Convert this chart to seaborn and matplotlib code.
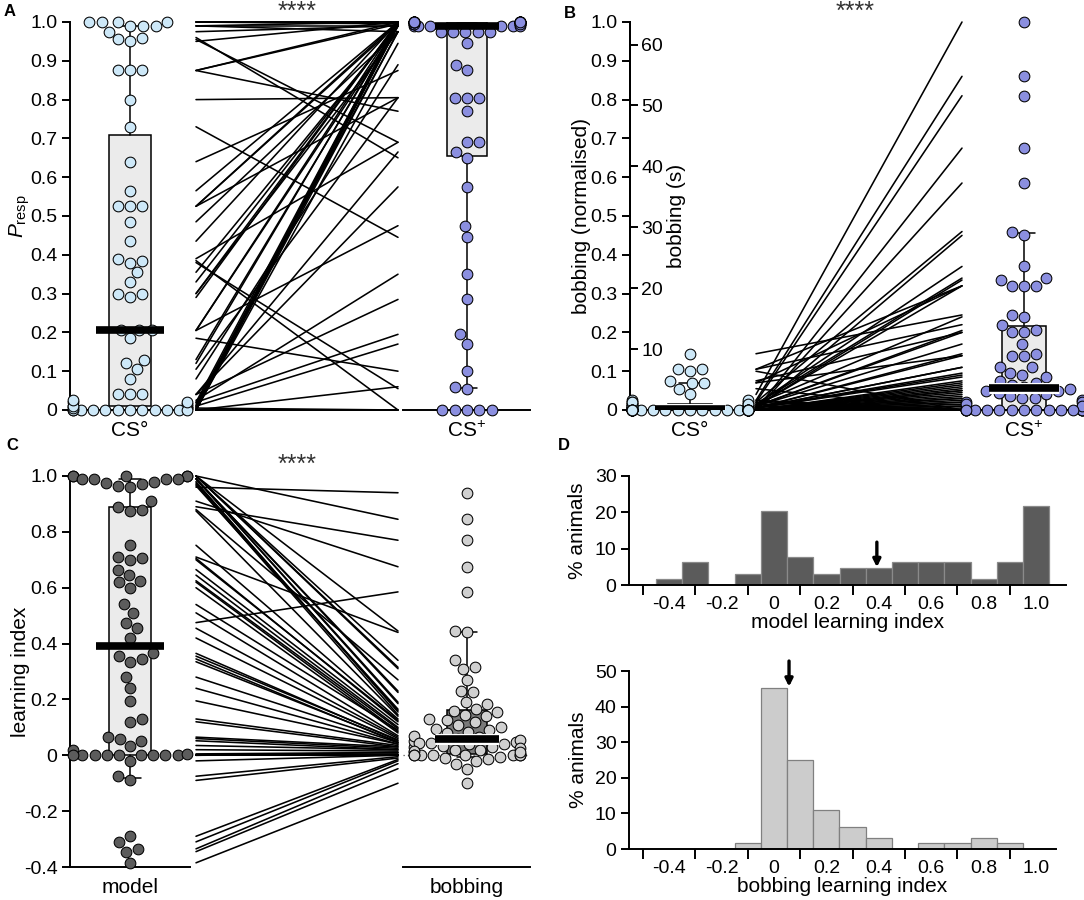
import numpy as np
import pandas as pd
import matplotlib
matplotlib.use("Agg")
import matplotlib.pyplot as plt
import matplotlib.patheffects as pe
from matplotlib import cbook
import seaborn as sns

# ---------------- data (one entry per animal, same order in every array) ----------------
presp_cs0 = [0, 0, 0, 0, 0, 0, 0.005, 0.005, 0.01, 0.01,
             0.015, 0.02, 0, 0, 0, 0, 0, 0.005, 0, 0.01,
             0.02, 0.025, 0.04, 0.04, 0.04, 0.08, 0.105, 0.12, 0.13, 0.185,
             0.205, 0.205, 0.205, 0.29, 0.30, 0.30, 0.33, 0.355, 0.38, 0.385,
             0.39, 0.435, 0.485, 0.525, 0.525, 0.525, 0.565, 0.64, 0.73, 0.80,
             0.875, 0.875, 0.875, 0.955, 0.96, 0.95, 0.975, 1.0, 1.0, 1.0,
             1.0, 0.99, 0.99, 0.99]
presp_csplus = [1.0, 1.0, 1.0, 0.995, 0.99, 1.0, 1.0, 0.995, 1.0, 0.99,
                0.975, 1.0, 0.975, 0.945, 0, 0, 0, 0, 0.06, 0.17,
                0.195, 0.35, 0.285, 0.575, 0.665, 0.89, 0.805, 1.0, 0.995, 0.10,
                1.0, 0.99, 0.475, 1.0, 1.0, 0.975, 0.995, 0.99, 0.055, 0,
                0.69, 1.0, 0.975, 1.0, 0.995, 0.805, 1.0, 0.875, 0.445, 0.805,
                1.0, 0.995, 0.77, 0.69, 0.65, 1.0, 0.99, 1.0, 1.0, 0.995,
                1.0, 0.975, 1.0, 0.99]
bob_cs0 = [0.025, 0.02, 0.015, 0.07, 0.01, 0.015, 0.01, 0.145, 0.015, 0.105,
           0.01, 0.01, 0.075, 0.04, 0, 0, 0, 0, 0, 0,
           0, 0, 0, 0.005, 0.005, 0.105, 0.07, 0, 0.02, 0,
           0.01, 0.005, 0, 0, 0.005, 0.005, 0.005, 0.005, 0.025, 0.055,
           0.10, 0, 0, 0, 0, 0, 0, 0, 0.015, 0,
           0, 0, 0.005, 0.01, 0.02, 0, 0, 0, 0, 0,
           0, 0, 0, 0]
bob_csplus = [0.86, 0.46, 0.37, 0.32, 0.32, 0.34, 0.335, 0.245, 0.24, 0.22,
              0.205, 0.20, 0.20, 1.0, 0.005, 0, 0, 0, 0.025, 0.035,
              0.03, 0.05, 0.05, 0.09, 0.085, 0.32, 0.14, 0.675, 0.81, 0,
              0.17, 0.145, 0.045, 0.45, 0.14, 0.11, 0.11, 0.095, 0, 0,
              0, 0.075, 0.07, 0.585, 0.065, 0.055, 0.06, 0.04, 0, 0.01,
              0.03, 0.02, 0, 0, 0, 0.02, 0.015, 0, 0, 0,
              0, 0, 0.01, 0]
model_li = [1.0, 1.0, 1.0, 0.99, 0.99, 1.0, 1.0, 0.99, 0.99, 0.975,
            0.965, 0.98, 0.97, 0.96, 0, 0, 0, 0, 0.065, 0.195,
            0.24, 0.365, 0.335, 0.54, 0.62, 0.88, 0.70, 0.91, 0.89, -0.02,
            0.875, 0.752, 0.345, 0.71, 0.705, 0.665, 0.645, 0.625, -0.335, -0.345,
            -0.385, 0.60, 0.51, 0.475, 0.455, 0.355, 0.42, 0.28, -0.29, 0.02,
            0.13, 0.12, -0.075, -0.09, -0.31, 0.06, 0.052, 0, 0, 0,
            0, 0, 0.035, 0.005]
bob_li = [0.845, 0.445, 0.34, 0.23, 0.225, 0.315, 0.31, 0.19, 0.185, 0.16,
          0.165, 0.155, 0.145, 0.94, 0.01, 0.005, 0, 0, 0.03, 0.04,
          0.04, 0.052, 0.048, 0.09, 0.085, 0.27, 0.125, 0.675, 0.77, 0,
          0.14, 0.13, 0.045, 0.44, 0.12, 0.11, 0.10, 0.095, -0.03, -0.048,
          -0.10, 0.08, 0.07, 0.585, 0.065, 0.055, 0.06, 0.045, -0.015, 0.015,
          0.035, 0.03, -0.005, -0.01, -0.02, 0.025, 0.02, 0, 0, 0,
          0, 0, 0.02, 0.01]

bobbing_seconds_per_unit = 63.7
presp_ticks = [0, 0.1, 0.2, 0.3, 0.4, 0.5, 0.6, 0.7, 0.8, 0.9, 1.0]
li_ticks = [-0.4, -0.2, 0, 0.2, 0.4, 0.6, 0.8, 1.0]
sec_ticks = [10, 20, 30, 40, 50, 60]
hist_label_ticks = [-0.4, -0.2, 0, 0.2, 0.4, 0.6, 0.8, 1.0]
hist_minor_ticks = [-0.5, -0.3, -0.1, 0.1, 0.3, 0.5, 0.7, 0.9]
box_percentiles = [10, 25, 50, 75, 90]

# ---------------- style ----------------
sns.set_theme(style="ticks")
plt.rcParams["font.family"] = ["Liberation Sans", "DejaVu Sans"]
plt.rcParams.update({
    "mathtext.fontset": "custom",
    "mathtext.rm": "Liberation Sans",
    "mathtext.it": "Liberation Sans:italic",
    "mathtext.bf": "Liberation Sans:bold",
    "axes.linewidth": 1.4,
    "xtick.major.width": 1.4, "ytick.major.width": 1.4,
    "xtick.minor.width": 1.4,
    "axes.edgecolor": "black", "xtick.color": "black", "ytick.color": "black",
    "text.color": "black", "axes.labelcolor": "black",
})

LIGHT_BLUE = "#cde8f8"
PURPLE = "#8b8fe0"
DARK_GREY = "#5c5c5c"
LIGHT_GREY = "#d0d0d0"
BOX_LIGHT = "#ebebeb"
BOX_DARK = "#7a7a7a"
TICK_FS = 14
LAB_FS = 15

W, H = 1084, 900
fig = plt.figure(figsize=(W / 100, H / 100), dpi=100)


def add_ax(x0, y0, x1, y1):
    return fig.add_axes([x0 / W, 1 - y1 / H, (x1 - x0) / W, (y1 - y0) / H])


def fmt(v):
    return "0" if abs(v) < 1e-9 else f"{v:.1f}"


def group_panel(ax, vals, label, dot_color, box_color, xlim, ylim,
                yticks=None, ylabel=None, ylabel_x=-0.33, stroke=False):
    df = pd.DataFrame({"group": ["g"] * len(vals), "value": vals})
    sns.swarmplot(data=df, x="group", y="value", ax=ax, color=dot_color,
                  size=7.7, edgecolor="black", linewidth=0.75, clip_on=False,
                  zorder=3, warn_thresh=1)
    # box = interquartile range, whiskers = 10-90th percentile (GraphPad style)
    st = cbook.boxplot_stats(np.asarray(vals, float), whis=(10, 90))[0]
    p = np.percentile(vals, box_percentiles, method="weibull")
    st.update(whislo=p[0], q1=p[1], med=p[2], q3=p[3], whishi=p[4], fliers=[])
    ax.bxp([st], positions=[0], widths=0.3, patch_artist=True, showfliers=False,
           manage_ticks=False, capwidths=0.15,
           boxprops=dict(facecolor=box_color, edgecolor="black", linewidth=1.1),
           medianprops=dict(color="black", linewidth=1.1),
           whiskerprops=dict(color="black", linewidth=1.1),
           capprops=dict(color="black", linewidth=1.1))
    ln = ax.hlines(p[2], -0.24, 0.24, colors="black", lw=5.5, zorder=6)
    if stroke:
        ln.set_path_effects([pe.Stroke(linewidth=8, foreground="white"), pe.Normal()])
    ax.set_xlim(*xlim)
    ax.set_ylim(*ylim)
    ax.set_xlabel("")
    ax.set_xticks([0], [label])
    ax.tick_params(axis="x", length=0, labelsize=LAB_FS, pad=8)
    sns.despine(ax=ax)
    if yticks is None:
        ax.spines["left"].set_visible(False)
        ax.set_yticks([])
        ax.set_ylabel("")
    else:
        ax.set_yticks(yticks, [fmt(v) for v in yticks])
        ax.tick_params(axis="y", length=6, labelsize=TICK_FS, pad=3)
        ax.set_ylabel(ylabel, fontsize=LAB_FS)
        ax.yaxis.set_label_coords(ylabel_x, 0.5)


def lines_panel(ax, left, right, ylim):
    n = len(left)
    df = pd.DataFrame({
        "animal": list(range(n)) * 2,
        "pos": [0] * n + [1] * n,
        "value": list(left) + list(right),
    })
    sns.lineplot(data=df, x="pos", y="value", units="animal", estimator=None,
                 color="black", lw=1.15, ax=ax, legend=False)
    for l in ax.lines:
        l.set_clip_on(False)
    ax.set_xlim(0, 1)
    ax.set_ylim(*ylim)
    ax.axis("off")


def hist_panel(ax, vals, color, edge, xlim, ylim, yticks, xlabel):
    sns.histplot(x=vals, bins=15, binrange=(-0.45, 1.05), stat="percent",
                 color=color, edgecolor=edge, linewidth=0.9, alpha=1, ax=ax)
    ax.set_xlim(*xlim)
    ax.set_ylim(*ylim)
    ax.set_yticks(yticks, [str(v) for v in yticks])
    ax.set_xticks(hist_label_ticks, [fmt(v) for v in hist_label_ticks])
    ax.set_xticks(hist_minor_ticks, minor=True)
    ax.tick_params(axis="x", which="major", length=0, labelsize=TICK_FS, pad=8)
    ax.tick_params(axis="x", which="minor", length=7, width=1.4, direction="out")
    ax.tick_params(axis="y", length=6, labelsize=TICK_FS, pad=3)
    ax.set_xlabel(xlabel, fontsize=LAB_FS, labelpad=0)
    ax.set_ylabel("% animals", fontsize=LAB_FS)
    ax.yaxis.set_label_coords(-0.097, 0.5)
    sns.despine(ax=ax)


# ---------------- panel A ----------------
axA1 = add_ax(70, 22, 190, 410)
group_panel(axA1, presp_cs0, "CS°", LIGHT_BLUE, BOX_LIGHT, (-0.42, 0.42), (0, 1),
            yticks=presp_ticks, ylabel=r"$P_{\mathrm{resp}}$", ylabel_x=-0.32)
axA2 = add_ax(196, 22, 398, 410)
lines_panel(axA2, presp_cs0, presp_csplus, (0, 1))
axA3 = add_ax(403, 22, 530, 410)
group_panel(axA3, presp_csplus, r"CS$^{+}$", PURPLE, BOX_LIGHT, (-0.485, 0.477), (0, 1))

# ---------------- panel B ----------------
axB1 = add_ax(630, 22, 750, 410)
group_panel(axB1, bob_cs0, "CS°", LIGHT_BLUE, BOX_LIGHT, (-0.414, 0.414), (0, 1),
            yticks=presp_ticks, ylabel="bobbing (normalised)", ylabel_x=-0.325,
            stroke=True)
sec = axB1.secondary_yaxis(0.0, functions=(lambda v: v * bobbing_seconds_per_unit,
                                           lambda s: s / bobbing_seconds_per_unit))
sec.set_alignment("right")
sec.set_yticks(sec_ticks)
sec.tick_params(axis="y", direction="out", length=6, labelsize=TICK_FS, pad=2)
sec.set_ylabel("bobbing (s)", fontsize=LAB_FS, labelpad=3)
axB2 = add_ax(756, 22, 962, 410)
lines_panel(axB2, bob_cs0, bob_csplus, (0, 1))
axB3 = add_ax(965, 22, 1084, 410)
group_panel(axB3, bob_csplus, r"CS$^{+}$", PURPLE, BOX_LIGHT, (-0.407, 0.414), (0, 1),
            stroke=True)

# ---------------- panel C ----------------
axC1 = add_ax(70, 476, 190, 867)
group_panel(axC1, model_li, "model", DARK_GREY, BOX_LIGHT, (-0.42, 0.42), (-0.4, 1.0),
            yticks=li_ticks, ylabel="learning index", ylabel_x=-0.33)
axC2 = add_ax(196, 476, 398, 867)
lines_panel(axC2, model_li, bob_li, (-0.4, 1.0))
axC3 = add_ax(403, 476, 530, 867)
axC3.axhline(0, color="#555555", lw=0.9, ls=(0, (1, 2.5)), zorder=0)
group_panel(axC3, bob_li, "bobbing", LIGHT_GREY, BOX_DARK, (-0.485, 0.477), (-0.4, 1.0),
            stroke=True)

# ---------------- panel D ----------------
axD1 = add_ax(629, 476, 1066, 585)
hist_panel(axD1, model_li, "#5b5b5b", "#8a8a8a", (-0.553, 1.114), (0, 30),
           [0, 10, 20, 30], "model learning index")
m1 = np.median(model_li)
axD1.annotate("", xy=(m1, 4.9), xytext=(m1, 11.8),
              arrowprops=dict(arrowstyle="-|>", color="black", lw=2.4,
                              mutation_scale=11, shrinkA=0, shrinkB=0),
              annotation_clip=False)

axD2 = add_ax(629, 671, 1056, 849)
hist_panel(axD2, bob_li, "#cccccc", "#808080", (-0.553, 1.076), (0, 50),
           [0, 10, 20, 30, 40, 50], "bobbing learning index")
m2 = np.median(bob_li)
axD2.annotate("", xy=(m2, 45.6), xytext=(m2, 52.8),
              arrowprops=dict(arrowstyle="-|>", color="black", lw=2.4,
                              mutation_scale=11, shrinkA=0, shrinkB=0),
              annotation_clip=False)

# ---------------- annotations ----------------
for (x, y) in [(297, 12), (855, 12), (297, 465)]:
    fig.text(x / W, 1 - y / H, "****", ha="center", va="center", fontsize=18,
             color="#333333")
for lab, (x, y) in {"A": (10, 12), "B": (570, 14), "C": (12, 446), "D": (564, 446)}.items():
    fig.text(x / W, 1 - y / H, lab, ha="center", va="center", fontsize=12,
             fontweight="bold")

fig.savefig("out.png", dpi=100)
